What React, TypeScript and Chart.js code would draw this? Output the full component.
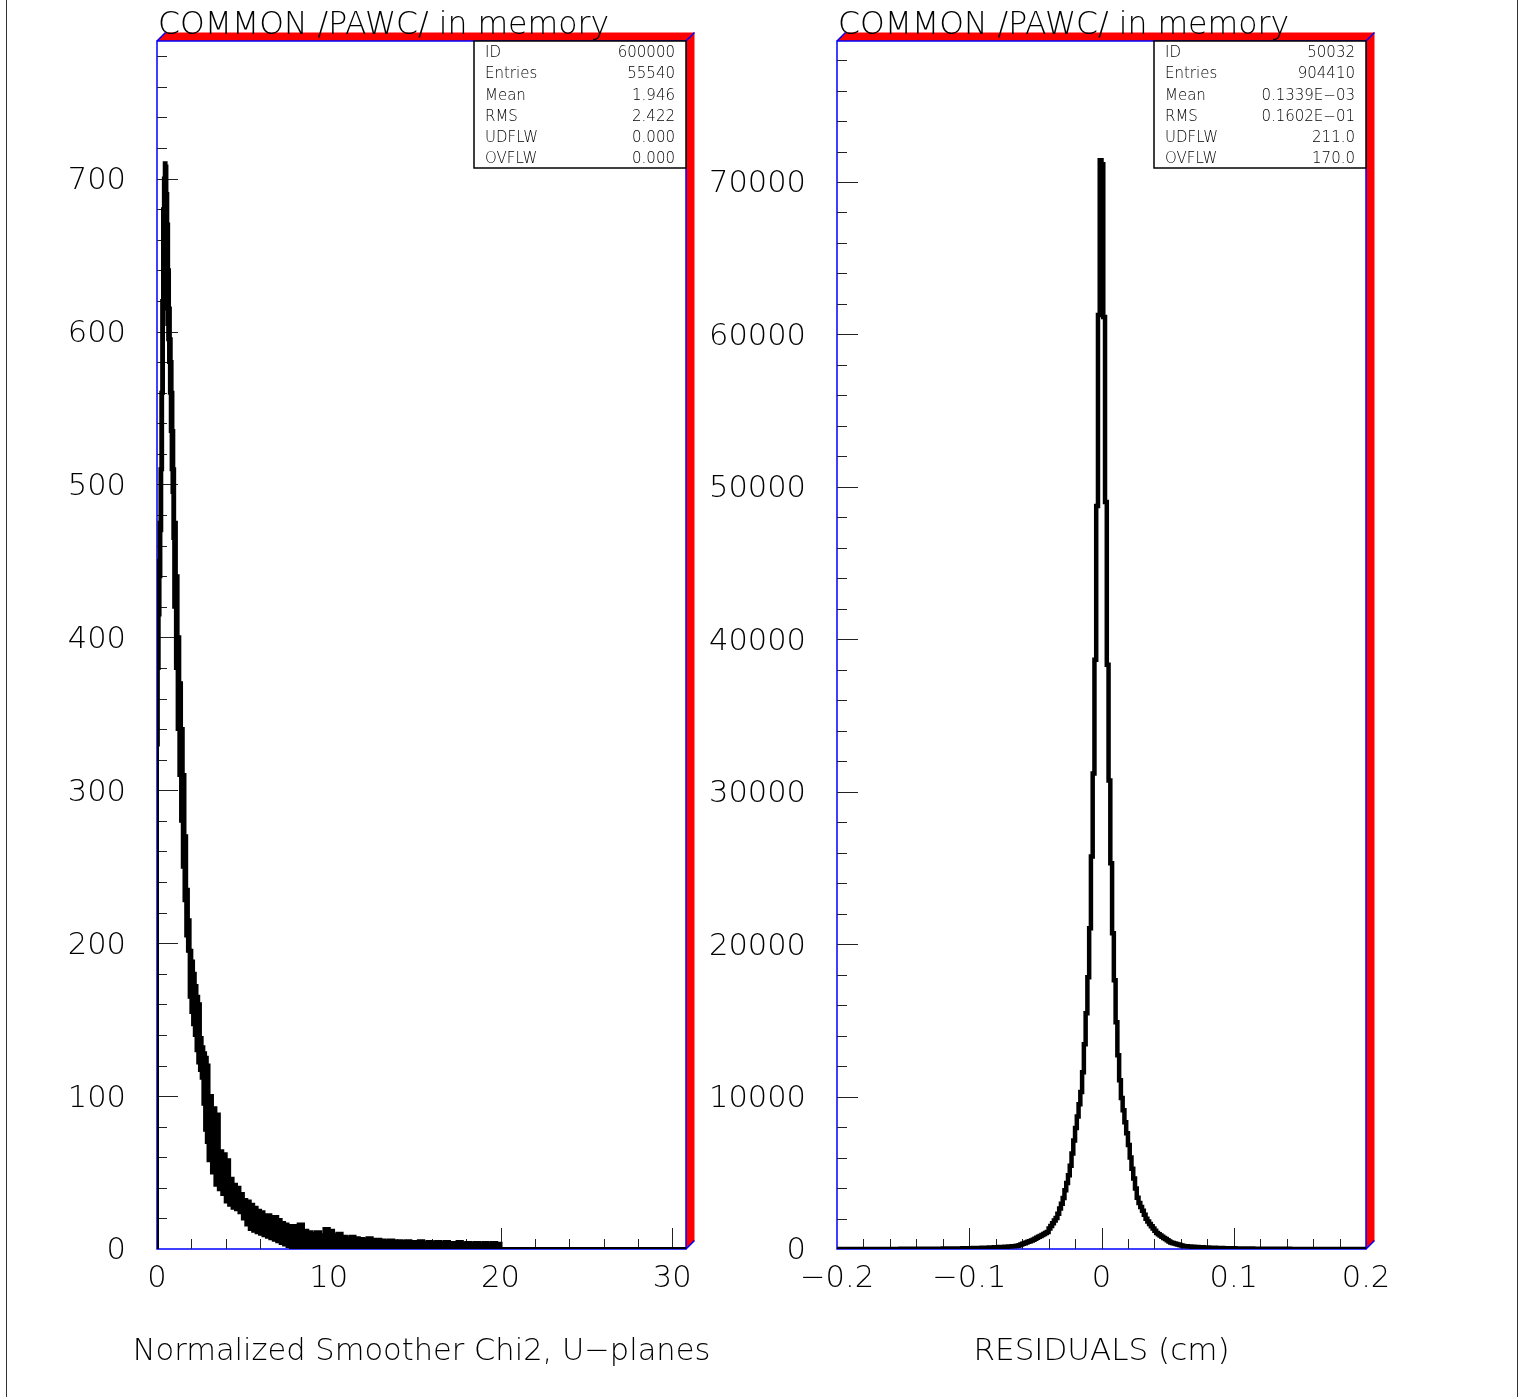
import React, { useEffect, useRef } from 'react';
import { Chart, registerables } from 'chart.js';

Chart.register(...registerables);

const W = 1523;
const H = 1397;
const FAMILY = 'DejaVu Sans';
const WEIGHT = '200';

// ---------------- Left panel: Normalized Smoother Chi2 ----------------
const chiTitle = 'COMMON /PAWC/ in memory';
const chiAxisTitle = 'Normalized Smoother Chi2, U\u2212planes';
const chiXRange = [0, 30.8];
const chiYRange = [0, 790];
const chiXLabels = [0, 10, 20, 30];
const chiYLabels = [0, 100, 200, 300, 400, 500, 600, 700];
const chiStats = [
  ['ID', '600000'],
  ['Entries', '55540'],
  ['Mean', '1.946'],
  ['RMS', '2.422'],
  ['UDFLW', '0.000'],
  ['OVFLW', '0.000'],
];
// bin edges (the histogram is drawn as a noisy band: upper / lower envelope per bin)
const chiEdges = [
  0, 0.05, 0.1, 0.15, 0.2, 0.25, 0.3, 0.35, 0.4, 0.45, 0.5, 0.55, 0.6, 0.65, 0.7, 0.75, 0.8, 0.85, 0.9, 0.95,
  1, 1.1, 1.2, 1.3, 1.4, 1.5, 1.6, 1.7, 1.8, 1.9, 2, 2.1, 2.2, 2.3, 2.4, 2.5, 2.6, 2.7, 2.8, 2.9,
  3, 3.2, 3.4, 3.6, 3.8, 4, 4.2, 4.4, 4.6, 4.8, 5, 5.2, 5.4, 5.6, 5.8, 6, 6.2, 6.4, 6.6, 6.8, 7, 7.2, 7.4, 7.6, 7.8,
  8, 8.25, 8.5, 8.75, 9, 9.25, 9.5, 9.75, 10, 10.25, 10.5, 10.75, 11, 11.25, 11.5, 11.75,
  12, 12.25, 12.5, 12.75, 13, 13.25, 13.5, 13.75, 14, 14.25, 14.5, 14.75, 15, 15.25, 15.5, 15.75,
  16, 16.25, 16.5, 16.75, 17, 17.25, 17.5, 17.75, 18, 18.25, 18.5, 18.75, 19, 19.25, 19.5, 19.75,
  20, 30.8,
];
const chiUpper = [
  380, 420, 450, 475, 510, 560, 620, 680, 700, 710, 708, 690, 670, 640, 615, 595, 580, 560, 535, 510,
  475, 440, 400, 370, 340, 310, 270, 235, 215, 195, 188, 180, 172, 165, 160, 138, 132, 128, 125, 120,
  100, 92, 88, 64, 62, 58, 46, 42, 40, 36, 32, 31, 29, 27, 25, 24, 22, 22, 21, 21, 19, 17, 16, 15, 14,
  15, 16, 12, 11, 10, 11, 9, 13, 12, 9, 10, 8, 7, 8, 7, 6.5,
  6, 7, 6, 6, 5.5, 5, 5.5, 5, 5, 4.5, 5, 4.5, 4.5, 5, 4, 4.5,
  4, 4.5, 4, 4.5, 4, 4, 4.5, 3.5, 4, 3.5, 4, 3.5, 4, 3.5, 4, 3.5,
  0,
];
const chiLower = [
  330, 380, 415, 440, 470, 510, 560, 615, 630, 640, 625, 615, 605, 595, 580, 560, 535, 510, 495, 465,
  420, 380, 340, 310, 280, 250, 228, 205, 195, 165, 155, 147, 140, 130, 122, 117, 112, 95, 78, 70,
  58, 50, 42, 39, 36, 31, 29, 27, 26, 24, 20, 16, 13, 12, 11, 10, 9, 8, 7, 6, 5, 4, 3, 2, 1,
  1, 0.5, 0, 0, 0, 0, 0, 0, 0, 0, 0, 0, 0, 0, 0, 0,
  0, 0, 0, 0, 0, 0, 0, 0, 0, 0, 0, 0, 0, 0, 0, 0,
  0, 0, 0, 0, 0, 0, 0, 0, 0, 0, 0, 0, 0, 0, 0, 0,
  0,
];

// ---------------- Right panel: Residuals ----------------
const resTitle = 'COMMON /PAWC/ in memory';
const resAxisTitle = 'RESIDUALS (cm)';
const resXRange = [-0.2, 0.2];
const resYRange = [0, 79250];
const resXLabels = [-0.2, -0.1, 0, 0.1, 0.2];
const resYLabels = [0, 10000, 20000, 30000, 40000, 50000, 60000, 70000];
const resStats = [
  ['ID', '50032'],
  ['Entries', '904410'],
  ['Mean', '0.1339E\u221203'],
  ['RMS', '0.1602E\u221201'],
  ['UDFLW', '211.0'],
  ['OVFLW', '170.0'],
];
// 300 equal bins between resXRange[0] and resXRange[1]
const resCounts = [
  2, 1, 3, 2, 2, 3, 2, 3, 3, 2,
  3, 4, 3, 3, 4, 4, 3, 5, 4, 4,
  4, 5, 5, 4, 6, 5, 6, 6, 5, 7,
  6, 7, 7, 8, 7, 8, 9, 8, 9, 10,
  9, 10, 11, 11, 12, 12, 13, 13, 14, 15,
  15, 16, 17, 17, 18, 19, 20, 21, 22, 23,
  25, 26, 27, 28, 30, 31, 33, 35, 37, 39,
  41, 43, 45, 47, 50, 52, 55, 58, 61, 64,
  67, 71, 75, 79, 83, 87, 92, 97, 102, 107,
  113, 119, 125, 131, 138, 145, 152, 160, 167, 175,
  183, 190, 210, 250, 295, 340, 380, 425, 470, 510,
  555, 605, 668, 732, 796, 860, 923, 987, 1050, 1114,
  1350, 1517, 1694, 1870, 2038, 2320, 2654, 2970, 3351, 3857,
  4335, 4841, 5460, 6263, 7111, 7937, 8696, 9496, 10300, 11600,
  13430, 15470, 17820, 21040, 25750, 31190, 38660, 48750, 61270, 71430,
  71170, 61140, 49000, 38335, 30734, 25300, 20707, 17628, 14875, 12713,
  11075, 9900, 9109, 8322, 7601, 6815, 5996, 5269, 4620, 3971,
  3355, 3014, 2752, 2503, 2248, 1992, 1796, 1645, 1494, 1350,
  1193, 1042, 970, 885, 806, 727, 655, 570, 485, 432,
  400, 360, 328, 288, 256, 223, 197, 185, 175, 165,
  157, 149, 141, 134, 127, 120, 114, 108, 102, 97,
  92, 87, 83, 78, 74, 70, 66, 63, 60, 57,
  54, 51, 48, 46, 44, 42, 40, 38, 36, 34,
  32, 31, 29, 28, 27, 25, 24, 23, 22, 21,
  20, 19, 18, 17, 16, 15, 15, 14, 13, 13,
  12, 11, 11, 10, 10, 9, 9, 8, 8, 7,
  7, 7, 6, 6, 6, 5, 5, 5, 4, 5,
  4, 4, 3, 4, 3, 3, 4, 3, 2, 3,
  3, 2, 3, 2, 2, 3, 2, 2, 1, 2,
  2, 2, 1, 2, 1, 2, 1, 1, 2, 1,
];

// ---------------- layout (pixels) ----------------
const PLOT_TOP = 41;
const PLOT_BOTTOM = 1249;
const AXIS_TITLE_Y = 1352;
const LEFT_PANEL = { left: 157, right: 686 };
const RIGHT_PANEL = { left: 837, right: 1366 };

const font = (size: number) => ({ family: FAMILY, size, weight: WEIGHT as any });
const cssFont = (size: number) => `${WEIGHT} ${size}px "${FAMILY}"`;

const minus = (s: string) => s.replace('-', '\u2212');

const ticksBetween = (min: number, max: number, step: number) => {
  const out: number[] = [];
  const n = Math.round((max - min) / step);
  for (let i = 1; i < n; i++) out.push(min + i * step);
  return out;
};

const isMajor = (v: number, major: number) => Math.abs(v / major - Math.round(v / major)) < 1e-6;

const pawPlugin = {
  id: 'paw',
  beforeDatasetsDraw(chart: any, _args: any, o: any) {
    const { ctx, chartArea, scales } = chart;
    const { left, top, right, bottom } = chartArea;
    const d = 8.5;
    ctx.save();
    // red 3D depth faces
    ctx.fillStyle = '#ff0000';
    ctx.beginPath();
    ctx.moveTo(left, top);
    ctx.lineTo(left + d, top - d);
    ctx.lineTo(right + d, top - d);
    ctx.lineTo(right + d, bottom - d);
    ctx.lineTo(right, bottom);
    ctx.lineTo(right, top);
    ctx.closePath();
    ctx.fill();
    // blue frame and corner edges
    ctx.strokeStyle = '#0000ff';
    ctx.lineWidth = 1.5;
    ctx.strokeRect(left, top, right - left, bottom - top);
    ctx.beginPath();
    ctx.moveTo(left, top); ctx.lineTo(left + d, top - d);
    ctx.moveTo(right, top); ctx.lineTo(right + d, top - d);
    ctx.moveTo(right, bottom); ctx.lineTo(right + d, bottom - d);
    ctx.stroke();
    // tick marks (inside the frame)
    ctx.strokeStyle = '#222';
    ctx.lineWidth = 1;
    ctx.beginPath();
    for (const v of ticksBetween(o.xMin, o.xMax + (o.xExtra || 0), o.xMinor)) {
      if (v >= o.xMax) continue;
      const px = Math.round(scales.x.getPixelForValue(v)) + 0.5;
      const len = isMajor(v, o.xMajor) ? 21 : 10;
      ctx.moveTo(px, bottom);
      ctx.lineTo(px, bottom - len);
    }
    for (const v of ticksBetween(o.yMin, o.yMax, o.yMinor)) {
      const py = Math.round(scales.y.getPixelForValue(v)) + 0.5;
      const len = isMajor(v, o.yMajor) ? 21 : 10;
      ctx.moveTo(left, py);
      ctx.lineTo(left + len, py);
    }
    ctx.stroke();
    ctx.restore();
  },
  afterDatasetsDraw(chart: any, _args: any, o: any) {
    const { ctx, chartArea } = chart;
    const { left, top, right } = chartArea;
    ctx.save();
    // statistics box
    const bw = 212;
    const bh = 127;
    const bx = right - bw;
    ctx.fillStyle = '#ffffff';
    ctx.fillRect(bx, top, bw, bh);
    ctx.strokeStyle = '#000';
    ctx.lineWidth = 1.5;
    ctx.strokeRect(bx, top, bw, bh);
    ctx.fillStyle = '#000';
    ctx.font = cssFont(15);
    ctx.textBaseline = 'middle';
    o.stats.forEach(([k, v]: string[], i: number) => {
      const y = top + 12.5 + i * 21.1;
      ctx.textAlign = 'left';
      ctx.fillText(k, bx + 11, y);
      ctx.textAlign = 'right';
      ctx.fillText(v, right - 11, y);
    });
    // title above the frame
    ctx.font = cssFont(31.5);
    ctx.textAlign = 'left';
    ctx.textBaseline = 'alphabetic';
    ctx.fillText(o.title, left + 1, top - 7);
    // x axis title (no width squeezing)
    ctx.font = cssFont(o.axisTitleSize);
    ctx.textAlign = 'center';
    ctx.textBaseline = 'middle';
    ctx.fillText(o.axisTitle, (left + right) / 2, AXIS_TITLE_Y);
    ctx.restore();
  },
};

function histPoints(edges: number[], values: number[]) {
  const pts = [{ x: edges[0], y: 0 }];
  values.forEach((v, i) => pts.push({ x: edges[i], y: v }));
  pts.push({ x: edges[edges.length - 1], y: 0 });
  return pts;
}

function resPoints() {
  const n = resCounts.length;
  const w = (resXRange[1] - resXRange[0]) / n;
  const pts = resCounts.map((c, i) => ({ x: resXRange[0] + i * w, y: c }));
  pts.push({ x: resXRange[1], y: resCounts[n - 1] });
  return pts;
}

const noPad = (s: any) => {
  s.paddingTop = 0;
  s.paddingBottom = 0;
  s.paddingLeft = 0;
  s.paddingRight = 0;
};

function baseConfig(p: any) {
  return {
    type: 'line',
    data: { datasets: p.datasets },
    plugins: [pawPlugin],
    options: {
      responsive: false,
      animation: false,
      devicePixelRatio: 1,
      events: [],
      layout: { padding: { left: 0, top: PLOT_TOP, right: W - p.panel.right, bottom: 0 } },
      elements: { point: { radius: 0 }, line: { tension: 0 } },
      plugins: {
        legend: { display: false },
        tooltip: { enabled: false },
        title: { display: false },
        paw: {
          title: p.title,
          axisTitle: p.axisTitle,
          axisTitleSize: p.axisTitleSize,
          stats: p.stats,
          xMin: p.xRange[0], xMax: p.xRange[1], xMinor: p.xMinor, xMajor: p.xMajor, xExtra: p.xExtra,
          yMin: p.yRange[0], yMax: p.yRange[1], yMinor: p.yMinor, yMajor: p.yMajor,
        },
      },
      scales: {
        x: {
          type: 'linear',
          min: p.xRange[0],
          max: p.xRange[1],
          afterBuildTicks: (s: any) => { s.ticks = p.xLabels.map((v: number) => ({ value: v })); },
          afterFit: (s: any) => { s.height = H - PLOT_BOTTOM; noPad(s); },
          grid: { display: false, drawTicks: false },
          border: { display: false },
          ticks: { font: font(30.5), color: '#000', padding: 12, maxRotation: 0, autoSkip: false, callback: p.xFmt },
          title: { display: false },
        },
        y: {
          type: 'linear',
          min: p.yRange[0],
          max: p.yRange[1],
          afterBuildTicks: (s: any) => { s.ticks = p.yLabels.map((v: number) => ({ value: v })); },
          afterFit: (s: any) => { s.width = p.panel.left; noPad(s); },
          grid: { display: false, drawTicks: false },
          border: { display: false },
          ticks: { font: font(30.5), color: '#000', padding: 31, labelOffset: 2.5, autoSkip: false, callback: (v: number) => String(v) },
        },
      },
    },
  };
}

function leftConfig() {
  return baseConfig({
    panel: LEFT_PANEL,
    title: chiTitle,
    axisTitle: chiAxisTitle,
    axisTitleSize: 30.5,
    stats: chiStats,
    xRange: chiXRange,
    yRange: chiYRange,
    xLabels: chiXLabels,
    yLabels: chiYLabels,
    xMinor: 2, xMajor: 10, xExtra: 2,
    yMinor: 20, yMajor: 100,
    xFmt: (v: number) => String(v),
    datasets: [
      {
        data: histPoints(chiEdges, chiUpper),
        stepped: true,
        borderColor: '#000',
        backgroundColor: '#000',
        borderWidth: 4,
        fill: '+1',
        pointRadius: 0,
        borderJoinStyle: 'miter',
      },
      {
        data: histPoints(chiEdges, chiLower),
        stepped: true,
        borderColor: '#000',
        borderWidth: 4,
        fill: false,
        pointRadius: 0,
        borderJoinStyle: 'miter',
      },
    ],
  });
}

function rightConfig() {
  return baseConfig({
    panel: RIGHT_PANEL,
    title: resTitle,
    axisTitle: resAxisTitle,
    axisTitleSize: 31,
    stats: resStats,
    xRange: resXRange,
    yRange: resYRange,
    xLabels: resXLabels,
    yLabels: resYLabels,
    xMinor: 0.02, xMajor: 0.1, xExtra: 0,
    yMinor: 2000, yMajor: 10000,
    xFmt: (v: number) => {
      const r = Math.round(v * 10) / 10;
      return r === 0 ? '0' : minus(r.toFixed(1));
    },
    datasets: [
      {
        data: resPoints(),
        stepped: true,
        borderColor: '#000',
        borderWidth: 4.5,
        fill: false,
        pointRadius: 0,
        borderJoinStyle: 'miter',
      },
    ],
  });
}

function PawCanvas({ make }: { make: () => any }) {
  const ref = useRef<HTMLCanvasElement>(null);
  useEffect(() => {
    const chart = new Chart(ref.current as HTMLCanvasElement, make());
    return () => chart.destroy();
  }, []);
  return (
    <canvas
      ref={ref}
      width={W}
      height={H}
      style={{ position: 'absolute', left: 0, top: 0, width: W, height: H }}
    />
  );
}

export default function App() {
  return (
    <div style={{ position: 'absolute', left: 0, top: 0, width: W, height: H, background: '#fff', overflow: 'hidden' }}>
      <div style={{ position: 'absolute', left: 6, top: 0, width: 1, height: H, background: '#333' }} />
      <div style={{ position: 'absolute', left: 1517, top: 0, width: 1, height: H, background: '#333' }} />
      <PawCanvas make={leftConfig} />
      <PawCanvas make={rightConfig} />
    </div>
  );
}
